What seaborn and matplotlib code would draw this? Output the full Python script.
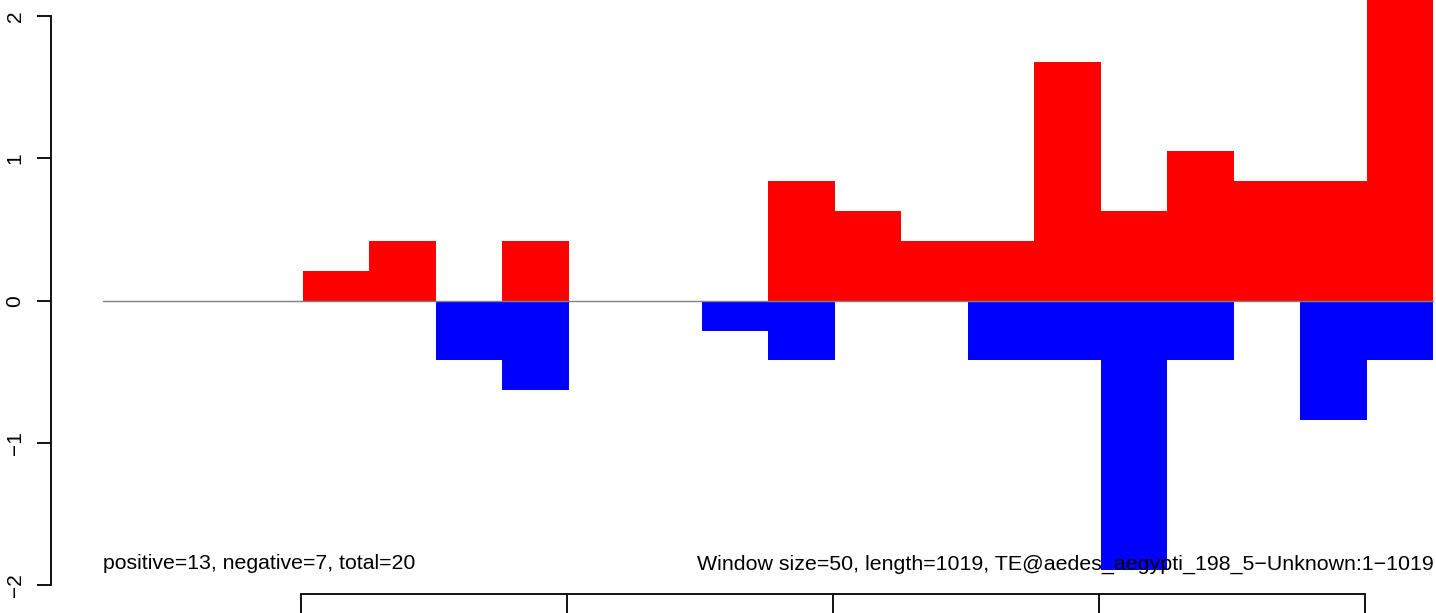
import matplotlib
matplotlib.use("Agg")
import matplotlib.pyplot as plt
import seaborn as sns

# window midpoints (bp) and per-window scores
window_mid = [76.5, 126.5, 176.5, 226.5, 276.5, 326.5, 376.5, 426.5, 476.5, 526.5,
              576.5, 626.5, 676.5, 726.5, 776.5, 826.5, 876.5, 926.5, 976.5, 1026.5]
pos_score = [0, 0, 0, 0.21, 0.42, 0, 0.42, 0, 0, 0,
             0.84, 0.63, 0.42, 0.42, 1.68, 0.63, 1.05, 0.84, 0.84, 2.12]
neg_score = [0, 0, 0, 0, 0, -0.42, -0.63, 0, 0, -0.21,
             -0.42, 0, 0, -0.42, -0.42, -1.89, -0.42, 0, -0.84, -0.42]
x_ticks = [200, 400, 600, 800, 1000]
y_ticks = [-2, -1, 0, 1, 2]
left_note = "positive=13, negative=7, total=20"
right_note = "Window size=50, length=1019, TE@aedes_aegypti_198_5\u2212Unknown:1\u22121019"

sns.set_style("white")
plt.rcParams["font.family"] = ["Liberation Sans", "DejaVu Sans"]
plt.rcParams["text.color"] = "black"
plt.rcParams["xtick.color"] = "black"
plt.rcParams["ytick.color"] = "black"

W, H = 1436, 613
fig = plt.figure(figsize=(W / 100, H / 100), dpi=100)

# plot region in pixels (R-like usr extends past the image)
xlim = (12, 1090)
ylim = (-2.061, 2.28)
px_left, px_right = 35 + 1.33 * xlim[0], 35 + 1.33 * xlim[1]
y0, unit = 300.7, 142.3
px_bottom, px_top = y0 - unit * ylim[0], y0 - unit * ylim[1]
ax = fig.add_axes([px_left / W, (H - px_bottom) / H,
                   (px_right - px_left) / W, (px_bottom - px_top) / H])

sns.barplot(x=window_mid, y=pos_score, native_scale=True, width=1,
            color="#ff0000", saturation=1, linewidth=0, ax=ax)
sns.barplot(x=window_mid, y=neg_score, native_scale=True, width=1,
            color="#0000ff", saturation=1, linewidth=0, ax=ax)
ax.plot([window_mid[0] - 25, window_mid[-1] + 25], [0, 0], color="#808080", lw=1)

ax.set_xlim(xlim)
ax.set_ylim(ylim)

for s in ["top", "right"]:
    ax.spines[s].set_visible(False)
ax.spines["left"].set_bounds(-2, 2)
ax.spines["bottom"].set_bounds(200, 1000)
for s in ["left", "bottom"]:
    ax.spines[s].set_color("black")
    ax.spines[s].set_linewidth(1.3)

ax.set_xticks(x_ticks)
ax.set_xticklabels(["" for _ in x_ticks])
ax.set_yticks(y_ticks)
ax.set_yticklabels([str(v).replace("-", "\u2212") for v in y_ticks],
                   rotation=90, va="center", fontsize=15, color="black")
ax.tick_params(axis="y", direction="out", length=10, width=1.3, pad=9, left=True)
ax.tick_params(axis="x", direction="out", length=15, width=1.3, bottom=True)
ax.set_xlabel("")
ax.set_ylabel("")

ax.text(window_mid[0] - 25, -1.85, left_note, ha="left", va="center",
        fontsize=15.3, color="black", zorder=5)
ax.text(window_mid[-1] + 25, -1.85, right_note, ha="right", va="center",
        fontsize=15.4, color="black", zorder=5)

fig.savefig("out.png", dpi=100)
